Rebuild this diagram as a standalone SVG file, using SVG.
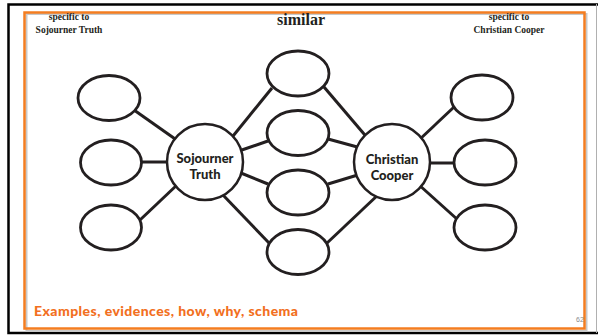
<svg xmlns="http://www.w3.org/2000/svg" width="598" height="335" viewBox="0 0 598 335">
  <style>
    .hdr { font-family: "Liberation Serif", "Times New Roman", serif; font-weight: bold; fill: #231f20; text-anchor: middle; }
    .hub { fill: #ffffff; stroke: #231f20; stroke-width: 2.5; }
    .leaf { fill: #ffffff; stroke: #231f20; stroke-width: 2.8; }
    .hublabel { font-family: Lato, "Open Sans", sans-serif; font-weight: 900; font-size: 13px; fill: #231f20; text-anchor: middle; }
    .edge { stroke: #231f20; stroke-width: 3; stroke-linecap: butt; fill: none; }
  </style>

  <!-- slide frame -->
  <rect x="0" y="0" width="598" height="335" fill="#ffffff"/>
  <path d="M598 4.5 H8.5 V333 H598" fill="none" stroke="#000000" stroke-width="2.5"/>
  <line x1="596.5" y1="4" x2="596.5" y2="333" stroke="#b0b0b0" stroke-width="1"/>
  <rect x="26.5" y="14" width="560" height="317" fill="none" stroke="#c8c8c8" stroke-width="2"/>
  <rect x="24.5" y="12.5" width="560" height="316" fill="none" stroke="#f47d20" stroke-width="2.5"/>

  <!-- column headings -->
  <text class="hdr" x="69" y="20" font-size="9.5">specific to</text>
  <text class="hdr" x="69" y="33" font-size="9.5">Sojourner Truth</text>
  <text class="hdr" x="301" y="25" font-size="16">similar</text>
  <text class="hdr" x="509" y="20" font-size="9.5">specific to</text>
  <text class="hdr" x="509" y="33" font-size="9.5">Christian Cooper</text>

  <!-- connectors -->
  <g id="connectors">
    <line class="edge" x1="134" y1="110" x2="178" y2="141"/>
    <line class="edge" x1="140" y1="162" x2="170" y2="162"/>
    <line class="edge" x1="140" y1="220" x2="178" y2="184"/>
    <line class="edge" x1="272" y1="88" x2="229" y2="141"/>
    <line class="edge" x1="268" y1="141" x2="236" y2="152"/>
    <line class="edge" x1="268" y1="184" x2="236" y2="171"/>
    <line class="edge" x1="270" y1="244" x2="222" y2="194"/>
    <line class="edge" x1="324" y1="87" x2="370" y2="141"/>
    <line class="edge" x1="328" y1="139" x2="361" y2="148"/>
    <line class="edge" x1="328" y1="184" x2="361" y2="174"/>
    <line class="edge" x1="326" y1="244" x2="380" y2="193"/>
    <line class="edge" x1="418" y1="141" x2="454" y2="107"/>
    <line class="edge" x1="428" y1="163" x2="456" y2="163"/>
    <line class="edge" x1="418" y1="184" x2="458" y2="220"/>
  </g>

  <!-- hub nodes -->
  <g id="sojourner-truth">
    <circle class="hub" cx="205" cy="162" r="38"/>
    <text class="hublabel" x="205" y="163">Sojourner</text>
    <text class="hublabel" x="205" y="179">Truth</text>
  </g>
  <g id="christian-cooper">
    <circle class="hub" cx="392" cy="162" r="38"/>
    <text class="hublabel" x="392" y="164">Christian</text>
    <text class="hublabel" x="392" y="180">Cooper</text>
  </g>

  <!-- empty nodes: Sojourner Truth only -->
  <g id="st-1"><ellipse class="leaf" cx="109" cy="98" rx="31" ry="22.5"/></g>
  <g id="st-2"><ellipse class="leaf" cx="111" cy="162.5" rx="30.5" ry="22.5"/></g>
  <g id="st-3"><ellipse class="leaf" cx="111" cy="227.5" rx="30.5" ry="22.5"/></g>

  <!-- empty nodes: shared -->
  <g id="sim-1"><ellipse class="leaf" cx="298" cy="73.5" rx="31" ry="22.5"/></g>
  <g id="sim-2"><ellipse class="leaf" cx="298" cy="133" rx="31" ry="22.5"/></g>
  <g id="sim-3"><ellipse class="leaf" cx="298" cy="192.5" rx="31" ry="22.5"/></g>
  <g id="sim-4"><ellipse class="leaf" cx="298" cy="252" rx="31" ry="22.5"/></g>

  <!-- empty nodes: Christian Cooper only -->
  <g id="cc-1"><ellipse class="leaf" cx="482" cy="97.5" rx="31" ry="22.5"/></g>
  <g id="cc-2"><ellipse class="leaf" cx="485" cy="162.5" rx="31" ry="22.5"/></g>
  <g id="cc-3"><ellipse class="leaf" cx="485" cy="227.5" rx="31" ry="22.5"/></g>

  <!-- footer -->
  <text x="34" y="316" font-family="Lato, 'Open Sans', sans-serif" font-weight="900" font-size="14" fill="#f26f21" textLength="264" lengthAdjust="spacing">Examples, evidences, how, why, schema</text>
  <text x="576" y="322" font-family="'Liberation Sans', Arial, sans-serif" font-size="7" fill="#8a8a8a">62</text>
</svg>
